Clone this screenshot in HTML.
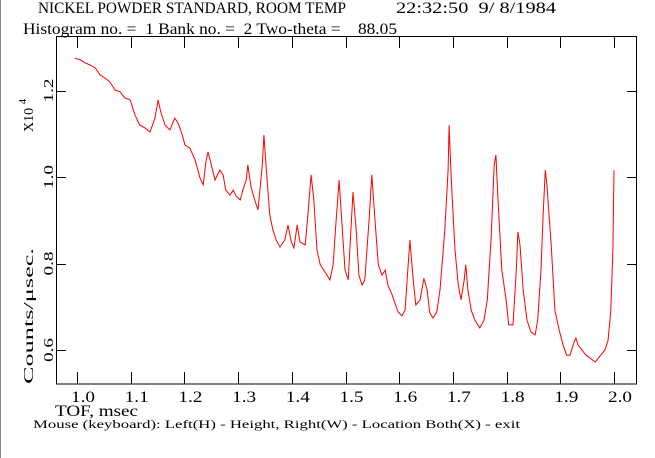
<!DOCTYPE html>
<html><head><meta charset="utf-8"><style>
html,body{margin:0;padding:0;background:#fff;}
svg{display:block;}
text{font-family:"Liberation Serif",serif;fill:#000;}
</style></head><body>
<svg id="chart" width="655" height="458" viewBox="0 0 655 458">
<rect x="0" y="0" width="655" height="458" fill="#fff"/>
<line x1="0.5" y1="0" x2="0.5" y2="458" stroke="#888"/>
<text x="38" y="13" font-size="16" textLength="308" lengthAdjust="spacingAndGlyphs">NICKEL POWDER STANDARD, ROOM TEMP</text>
<text x="396" y="13" font-size="16" textLength="160" lengthAdjust="spacingAndGlyphs" xml:space="preserve">22:32:50  9/ 8/1984</text>
<text x="23" y="34" font-size="16" textLength="374" lengthAdjust="spacingAndGlyphs" xml:space="preserve">Histogram no. =  1 Bank no. =  2 Two-theta =    88.05</text>
<rect x="56.5" y="36.5" width="580" height="347.5" fill="none" stroke="#000"/>
<g id="xaxis"></g>
<g id="yaxis"></g>
<path id="series" fill="none" stroke="#f00" stroke-width="1"/>
<text x="55" y="416" font-size="16" textLength="83" lengthAdjust="spacingAndGlyphs">TOF, msec</text>
<text transform="translate(33,384) rotate(-90)" font-size="14" textLength="136" lengthAdjust="spacingAndGlyphs">Counts/μsec.</text>
<text transform="translate(33,132) rotate(-90)" font-size="14">X10 <tspan dy="-7" font-size="11">4</tspan></text>
<text x="33" y="428" font-size="12" font-family="Liberation Mono, monospace" textLength="487" lengthAdjust="spacingAndGlyphs">Mouse (keyboard): Left(H) - Height, Right(W) - Location Both(X) - exit</text>
</svg>
<script>
const xTicks=[1.0,1.1,1.2,1.3,1.4,1.5,1.6,1.7,1.8,1.9,2.0];
const xTickLabels=["1.0","1.1","1.2","1.3","1.4","1.5","1.6","1.7","1.8","1.9","2.0"];
const yTicks=[0.6,0.8,1.0,1.2];
const yTickLabels=["0.6","0.8","1.0","1.2"];
const tof=[0.996,1.006,1.015,1.024,1.034,1.043,1.052,1.061,1.071,1.080,1.089,1.099,1.108,1.117,1.127,1.136,1.145,1.151,1.156,1.164,1.173,1.182,1.188,1.196,1.201,1.210,1.220,1.229,1.235,1.240,1.244,1.250,1.257,1.266,1.272,1.277,1.285,1.291,1.296,1.304,1.309,1.315,1.318,1.324,1.331,1.337,1.345,1.348,1.354,1.359,1.365,1.371,1.378,1.387,1.393,1.399,1.404,1.410,1.415,1.425,1.430,1.436,1.441,1.447,1.453,1.462,1.471,1.477,1.482,1.488,1.493,1.499,1.505,1.510,1.514,1.520,1.525,1.531,1.536,1.544,1.549,1.555,1.561,1.568,1.574,1.579,1.587,1.592,1.598,1.605,1.611,1.616,1.620,1.626,1.631,1.639,1.646,1.652,1.657,1.663,1.670,1.676,1.685,1.691,1.693,1.697,1.704,1.710,1.715,1.721,1.724,1.728,1.734,1.741,1.750,1.758,1.764,1.771,1.777,1.780,1.784,1.791,1.799,1.804,1.812,1.818,1.821,1.825,1.831,1.838,1.845,1.853,1.858,1.864,1.868,1.872,1.875,1.883,1.890,1.898,1.905,1.912,1.918,1.924,1.929,1.933,1.940,1.948,1.955,1.965,1.974,1.983,1.989,1.994,1.998,2.000];
const counts=[1.275,1.271,1.264,1.259,1.252,1.236,1.229,1.220,1.201,1.197,1.183,1.178,1.143,1.120,1.113,1.104,1.136,1.178,1.150,1.120,1.109,1.136,1.125,1.097,1.074,1.067,1.039,0.998,0.982,1.035,1.058,1.028,0.993,1.016,1.005,0.970,0.958,0.970,0.956,0.947,0.970,0.993,1.028,0.977,0.947,0.924,1.028,1.097,0.993,0.912,0.877,0.854,0.838,0.854,0.889,0.850,0.836,0.889,0.850,0.843,0.912,1.005,0.947,0.831,0.797,0.780,0.762,0.797,0.889,0.993,0.901,0.785,0.762,0.877,0.965,0.877,0.773,0.750,0.762,0.901,1.005,0.901,0.797,0.773,0.785,0.750,0.727,0.709,0.688,0.679,0.692,0.785,0.854,0.762,0.704,0.716,0.766,0.739,0.686,0.674,0.688,0.739,0.877,1.016,1.120,0.993,0.831,0.750,0.716,0.762,0.797,0.739,0.692,0.669,0.651,0.669,0.716,0.854,1.028,1.051,0.947,0.785,0.716,0.658,0.658,0.785,0.873,0.843,0.739,0.669,0.642,0.635,0.669,0.785,0.912,1.016,0.982,0.843,0.692,0.646,0.612,0.588,0.588,0.612,0.628,0.612,0.600,0.588,0.582,0.572,0.586,0.600,0.623,0.692,0.831,1.016];
const X=t=>77+(t-1)*537;
const Y=v=>350-(v-0.6)*432.5;
const NS="http://www.w3.org/2000/svg";
const xa=document.getElementById('xaxis'), ya=document.getElementById('yaxis');
xTicks.forEach((t,i)=>{
  const px=Math.round(X(t))+0.5;
  const l1=document.createElementNS(NS,'line');
  l1.setAttribute('x1',px);l1.setAttribute('x2',px);l1.setAttribute('y1',384);l1.setAttribute('y2',372);l1.setAttribute('stroke','#000');
  
  
  xa.appendChild(l1);
  const l2=document.createElementNS(NS,'line');
  l2.setAttribute('x1',px);l2.setAttribute('x2',px);l2.setAttribute('y1',36);l2.setAttribute('y2',48);l2.setAttribute('stroke','#000');
  
  
  xa.appendChild(l2);
  const tx=document.createElementNS(NS,'text');
  tx.setAttribute('x',X(t)-6);tx.setAttribute('y',402);tx.setAttribute('font-size','16');
  tx.setAttribute('textLength','24');tx.setAttribute('lengthAdjust','spacingAndGlyphs');
  tx.textContent=xTickLabels[i];
  
  
  xa.appendChild(tx);
});
yTicks.forEach((v,i)=>{
  const py=Math.round(Y(v))+0.5;
  const l1=document.createElementNS(NS,'line');
  l1.setAttribute('x1',56);l1.setAttribute('x2',66);l1.setAttribute('y1',py);l1.setAttribute('y2',py);l1.setAttribute('stroke','#000');
  
  
  ya.appendChild(l1);
  const l2=document.createElementNS(NS,'line');
  l2.setAttribute('x1',627);l2.setAttribute('x2',637);l2.setAttribute('y1',py);l2.setAttribute('y2',py);l2.setAttribute('stroke','#000');
  
  
  ya.appendChild(l2);
  const tx=document.createElementNS(NS,'text');
  tx.setAttribute('transform','translate(53,'+(Y(v)+12)+') rotate(-90)');
  tx.setAttribute('font-size','14');
  tx.setAttribute('textLength','24');tx.setAttribute('lengthAdjust','spacingAndGlyphs');
  tx.textContent=yTickLabels[i];
  
  
  ya.appendChild(tx);
});
let d='';
tof.forEach((t,i)=>{d+=(i?'L':'M')+X(t).toFixed(1)+' '+Y(counts[i]).toFixed(1);});
document.getElementById('series').setAttribute('d',d);
</script>
</body></html>
